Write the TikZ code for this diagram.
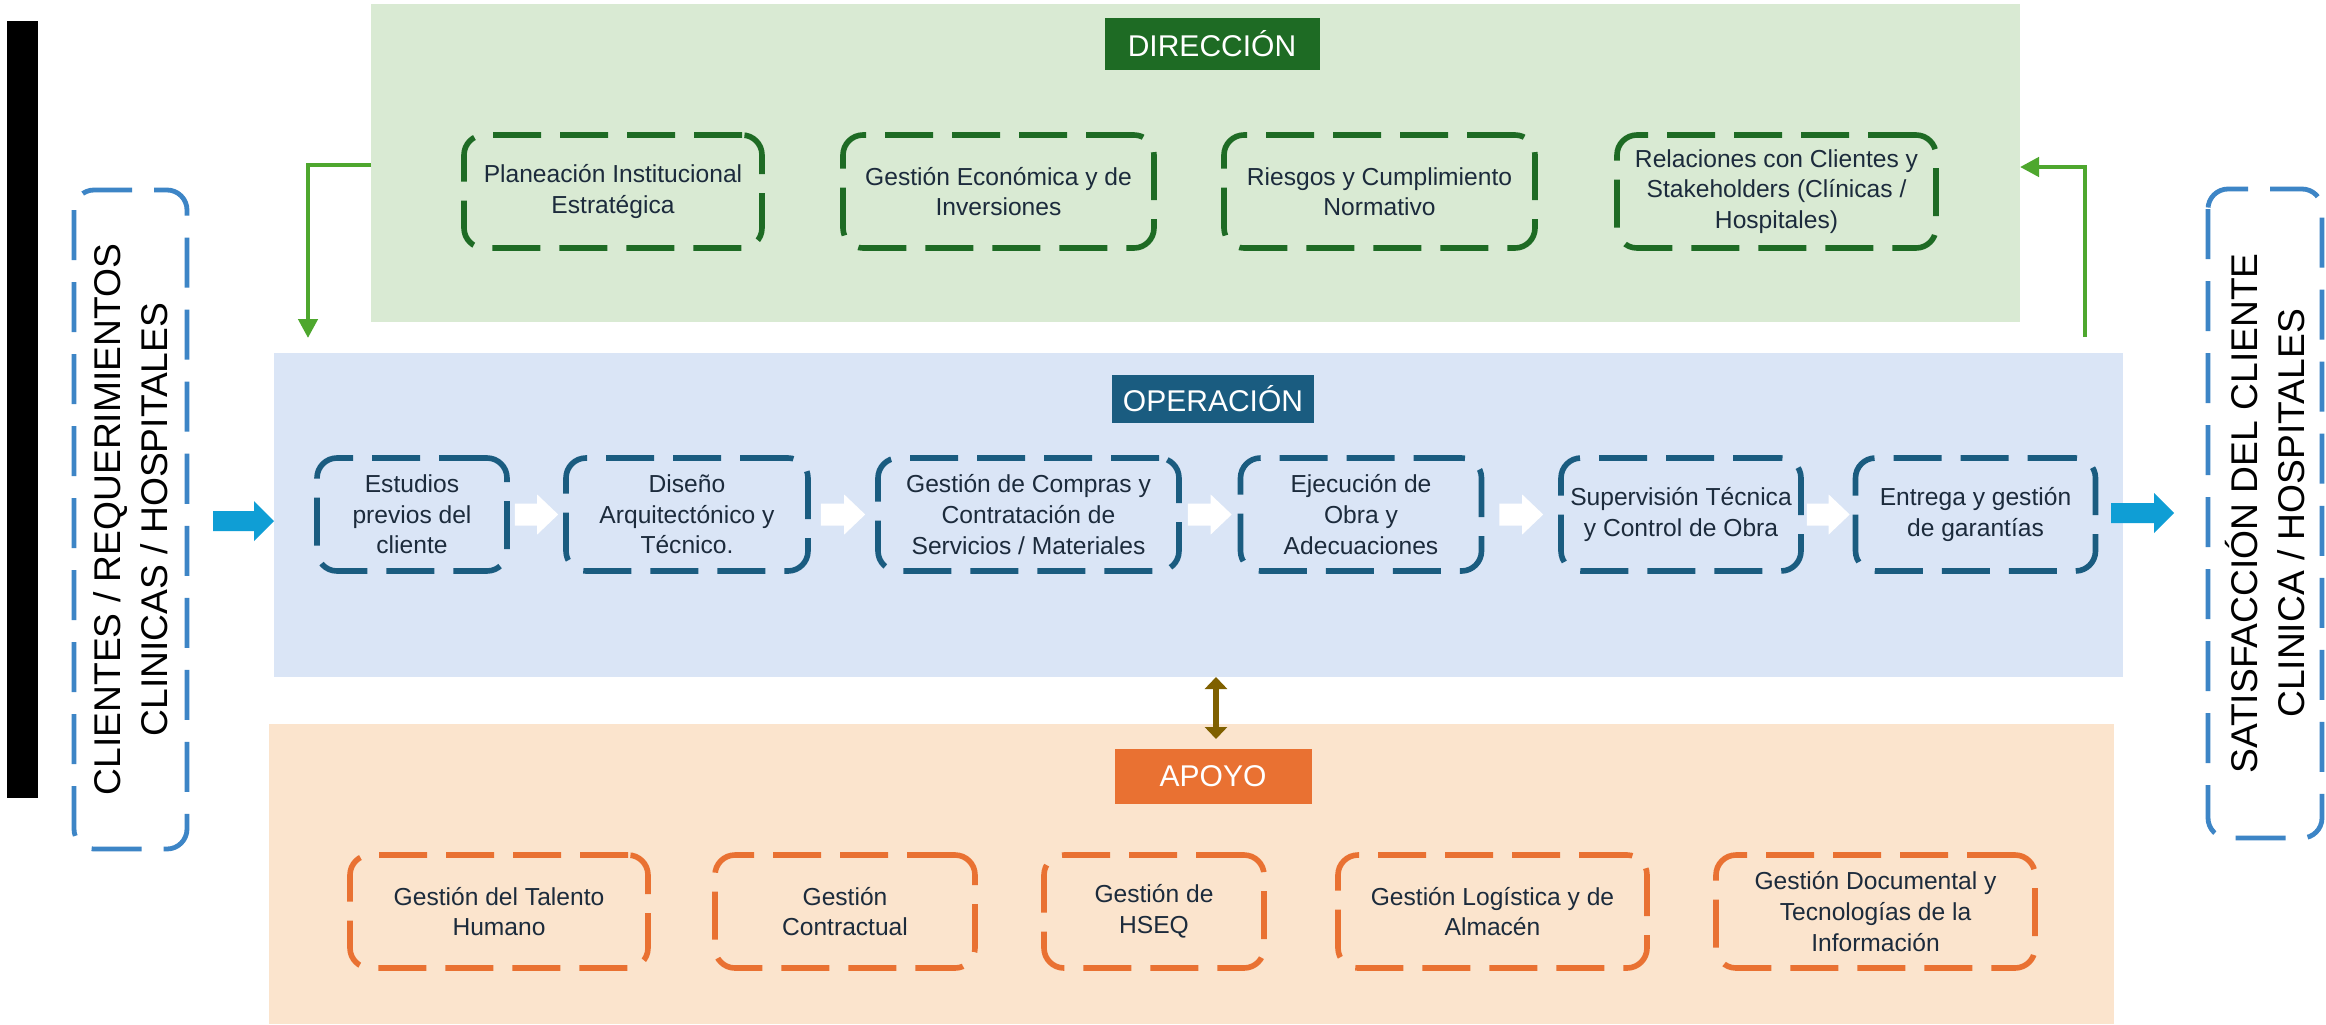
\documentclass[tikz,border=0pt]{standalone}
\usepackage{fontspec}
\setmainfont{Liberation Sans}
\usetikzlibrary{arrows.meta,calc}
\definecolor{dirbg}{HTML}{D9EAD3}
\definecolor{dirdk}{HTML}{1E6B24}
\definecolor{garr}{HTML}{4EA72E}
\definecolor{opbg}{HTML}{DAE5F6}
\definecolor{opdk}{HTML}{1A5C80}
\definecolor{apbg}{HTML}{FBE4CD}
\definecolor{apdk}{HTML}{E97132}
\definecolor{cyanar}{HTML}{0F9ED5}
\definecolor{brownar}{HTML}{7F6000}
\definecolor{sideb}{HTML}{3D85C6}
\definecolor{txt}{HTML}{1C2B3C}
\newcommand\blockarr[6]{\fill[#6] ($#1+(0,#3)$) -- ($#2+(-#5,#3)$) -- ($#2+(-#5,#4)$) -- #2 -- ($#2+(-#5,-#4)$) -- ($#2+(-#5,-#3)$) -- ($#1+(0,-#3)$) -- cycle;}
\begin{document}
\begin{tikzpicture}[x=0.5pt,y=-0.5pt,
  region/.style={rectangle, inner sep=0pt, outer sep=0pt, draw=none},
  dbox/.style={rectangle, rounded corners=10pt, line width=2.8pt, dash pattern=on 24pt off 9.5pt, align=center, inner sep=2pt, minimum height=56.5pt, font=\fontsize{12.3}{15.3}\selectfont, text=txt},
  gbox/.style={dbox, draw=dirdk},
  obox/.style={dbox, draw=opdk},
  abox/.style={dbox, draw=apdk},
  hdr/.style={rectangle, inner sep=0pt, text=white, font=\fontsize{15}{18}\selectfont},
  sidebox/.style={rectangle, rounded corners=10pt, draw=sideb, line width=2.4pt, dash pattern=on 25pt off 11pt, align=center, font=\fontsize{18.6}{23.3}\selectfont, inner sep=0pt, text=black},
  garrow/.style={draw=garr, line width=2.2pt, -{Triangle[width=9.5pt,length=9.5pt]}},
  barrow/.style={draw=brownar, line width=3pt, {Triangle[width=11pt,length=6pt]}-{Triangle[width=11pt,length=6pt]}}
]
\useasboundingbox (0,0) rectangle (2326,1024);
\fill[white] (0,0) rectangle (2326,1024);

% regions
\node[region, fill=dirbg, minimum width=824.5pt, minimum height=159pt] (dir) at (1195.5,163) {};
\node[region, fill=opbg, minimum width=924.5pt, minimum height=162pt] (op) at (1198.5,515) {};
\node[region, fill=apbg, minimum width=922.5pt, minimum height=150pt] (apo) at (1191.5,874) {};

% headers
\node[hdr, fill=dirdk, minimum width=107.5pt, minimum height=26pt] (hdir) at (1212,44) {DIRECCIÓN};
\node[hdr, fill=opdk, minimum width=101pt, minimum height=24pt] (hop) at (1213,399) {OPERACIÓN};
\node[hdr, fill=apdk, minimum width=98.5pt, minimum height=27.5pt] (hapo) at (1213,776) {APOYO};

% direccion boxes
\node[gbox, minimum width=149pt] (d1) at (613,191.5) {Planeación Institucional\\Estratégica};
\node[gbox, minimum width=155.5pt] (d2) at (998.5,191.5) {Gestión Económica y de\\Inversiones};
\node[gbox, minimum width=155.5pt] (d3) at (1379.5,191.5) {Riesgos y Cumplimiento\\Normativo};
\node[gbox, minimum width=159.5pt] (d4) at (1776.5,191.5) {Relaciones con Clientes y\\Stakeholders (Clínicas /\\Hospitales)};

% operacion boxes
\node[obox, minimum width=95pt] (o1) at (412,514.5) {Estudios\\previos del\\cliente};
\node[obox, minimum width=121pt] (o2) at (687,514.5) {Diseño\\Arquitectónico y\\Técnico.};
\node[obox, minimum width=150.5pt] (o3) at (1028.5,514.5) {Gestión de Compras y\\Contratación de\\Servicios / Materiales};
\node[obox, minimum width=120.5pt] (o4) at (1361,514.5) {Ejecución de\\Obra y\\Adecuaciones};
\node[obox, minimum width=120pt] (o5) at (1681,514.5) {Supervisión Técnica\\y Control de Obra};
\node[obox, minimum width=120pt] (o6) at (1975.5,514.5) {Entrega y gestión\\de garantías};

% apoyo boxes
\node[abox, minimum width=149pt] (a1) at (499,911.5) {Gestión del Talento\\Humano};
\node[abox, minimum width=130pt] (a2) at (845,911.5) {Gestión\\Contractual};
\node[abox, minimum width=110pt] (a3) at (1154,911.5) {Gestión de\\HSEQ};
\node[abox, minimum width=154.5pt] (a4) at (1492.5,911.5) {Gestión Logística y de\\Almacén};
\node[abox, minimum width=159.5pt] (a5) at (1875.5,911.5) {Gestión Documental y\\Tecnologías de la\\Información};

% side boxes
\fill[black] (7,21) rectangle (38,798);
\node[sidebox, rotate=90, minimum width=329.5pt, minimum height=56.5pt] (cli) at (130.5,519.5) {CLIENTES / REQUERIMIENTOS\\CLINICAS / HOSPITALES};
\node[sidebox, rotate=90, minimum width=324.5pt, minimum height=57pt] (sat) at (2265,513.5) {SATISFACCIÓN DEL CLIENTE\\CLINICA / HOSPITALES};

% green arrows
\coordinate (yg1) at (0,165);
\coordinate (gLend) at (308,338);
\draw[garrow] (dir.west |- yg1) -| (gLend);
\coordinate (yg2) at (0,167);
\coordinate (gRstart) at (2085,337);
\draw[garrow] (gRstart) |- (dir.east |- yg2);

% white arrows
\coordinate (w1s) at ([xshift=2.5pt]o1.east); \coordinate (w1e) at ([xshift=-2.5pt]o2.west);
\coordinate (w2s) at ([xshift=5pt]o2.east); \coordinate (w2e) at ([xshift=-5pt]o3.west);
\coordinate (w3s) at ([xshift=3pt]o3.east); \coordinate (w3e) at ([xshift=-3pt]o4.west);
\coordinate (w4s) at ([xshift=7.5pt]o4.east); \coordinate (w4e) at ([xshift=-7.5pt]o5.west);
\coordinate (w5s) at ([xshift=1.5pt]o5.east); \coordinate (w5e) at ([xshift=-1.5pt]o6.west);
\blockarr{(w1s)}{(w1e)}{5.5pt}{10pt}{10.5pt}{white}
\blockarr{(w2s)}{(w2e)}{5.5pt}{10pt}{10.5pt}{white}
\blockarr{(w3s)}{(w3e)}{5.5pt}{10pt}{10.5pt}{white}
\blockarr{(w4s)}{(w4e)}{5.5pt}{10pt}{10.5pt}{white}
\blockarr{(w5s)}{(w5e)}{5.5pt}{10pt}{10.5pt}{white}

% cyan arrows
\coordinate (cinS) at (213,521);
\coordinate (cinE) at (op.west |- cinS);
\blockarr{(cinS)}{(cinE)}{5pt}{10pt}{10pt}{cyanar}
\coordinate (coutS) at (2111,513);
\coordinate (coutE) at (2174,513);
\blockarr{(coutS)}{(coutE)}{5pt}{10pt}{10pt}{cyanar}

% brown double arrow
\coordinate (bEnd) at (1216,739);
\coordinate (bStart) at (op.south -| bEnd);
\draw[barrow] (bStart) -- (bEnd);
\end{tikzpicture}
\end{document}
